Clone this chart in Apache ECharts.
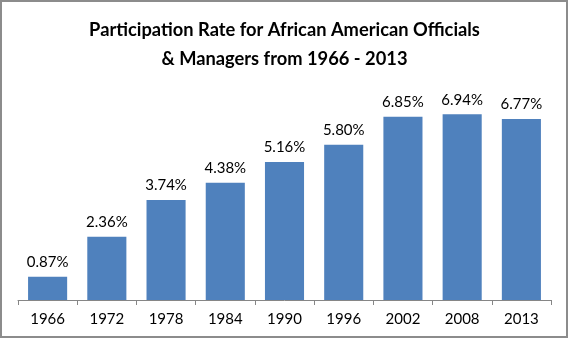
<!DOCTYPE html>
<html>
<head>
<meta charset="utf-8">
<script src="https://cdn.jsdelivr.net/npm/echarts@6/dist/echarts.min.js"></script>
<style>
  html, body { margin: 0; padding: 0; background: #fff; }
  #chart { width: 569px; height: 339px; }
</style>
</head>
<body>
<div id="chart"></div>
<script>
// Survey years and participation rates (%)
const years = ['1966', '1972', '1978', '1984', '1990', '1996', '2002', '2008', '2013'];
const rates = [0.87, 2.36, 3.74, 4.38, 5.16, 5.80, 6.85, 6.94, 6.77];
const titleText = 'Participation Rate for African American Officials\n& Managers from 1966 - 2013';

const chart = echarts.init(document.getElementById('chart'), null, { renderer: 'canvas' });
const font = 'Lato, "Liberation Sans", sans-serif';

chart.setOption({
  animation: false,
  backgroundColor: '#fff',
  title: {
    text: titleText,
    left: 'center',
    top: 11,
    textStyle: {
      fontFamily: font,
      fontSize: 18.3,
      fontWeight: 'bold',
      color: '#000',
      lineHeight: 29
    }
  },
  graphic: [{
    type: 'rect',
    shape: { x: 1, y: 1, width: 566, height: 336 },
    style: { fill: 'none', stroke: '#8c8c8c', lineWidth: 2 },
    silent: true
  }],
  grid: { left: 18, right: 18, top: 86, bottom: 39 },
  xAxis: {
    type: 'category',
    data: years,
    axisLine: { lineStyle: { color: '#868686', width: 1 } },
    axisTick: { show: true, alignWithLabel: false, length: 5, lineStyle: { color: '#868686' } },
    axisLabel: { fontFamily: font, fontSize: 15, color: '#000', margin: 12 }
  },
  yAxis: {
    type: 'value',
    min: 0,
    max: 8,
    show: false,
    splitLine: { show: false }
  },
  series: [{
    type: 'bar',
    data: rates,
    barCategoryGap: '34%',
    itemStyle: { color: '#4F81BD' },
    label: {
      show: true,
      position: 'top',
      distance: 7,
      formatter: p => p.value.toFixed(2) + '%',
      fontFamily: font,
      fontSize: 15,
      color: '#000'
    }
  }]
});
</script>
</body>
</html>
